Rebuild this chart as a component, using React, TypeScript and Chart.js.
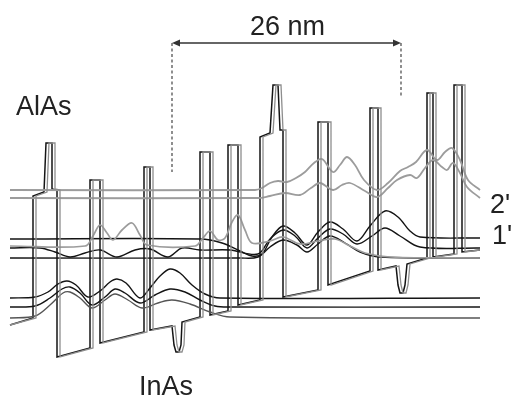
import { useEffect, useRef } from "react";
import { Chart, registerables } from "chart.js";

Chart.register(...registerables);

// Conduction-band edge of the cascade section (position, energy in plot units; energy axis points down)
const bandX = [10, 33, 33, 44, 46, 52, 52, 57, 57, 90, 90, 100, 100, 144, 144, 150, 150, 172, 174, 176, 179, 181, 182, 200, 200, 210, 210, 228, 228, 238, 238, 260, 260, 270, 273, 278, 280, 283, 283, 318, 318, 328, 328, 370, 370, 378, 378, 396, 398, 400, 403, 405, 407, 427, 427, 433, 433, 454, 454, 462, 462, 480];
const bandY = [325, 318, 196, 192, 143, 143, 189, 190, 357, 348, 180, 180, 343, 332, 167, 167, 330, 326, 345, 352, 352, 345, 322, 317, 152, 152, 315, 311, 145, 145, 305, 300, 137, 133, 85, 85, 130, 130, 297, 290, 122, 122, 285, 271, 108, 108, 270, 266, 285, 293, 293, 285, 264, 258, 93, 93, 257, 254, 85, 85, 252, 250];
// The same band edge for the second bias point, shifted slightly along the growth axis
const bandShift = 3;

// Upper states 2' (|psi|^2 drawn on its energy level)
const state2a: [number, number][] = [[10, 190], [255, 190], [262, 188], [270, 183], [278, 181], [287, 182], [296, 178], [305, 172], [314, 163], [322, 159], [333, 172], [340, 165], [347, 157], [355, 165], [364, 180], [377, 190], [388, 183], [400, 171], [408, 167], [416, 162], [427, 150], [437, 160], [445, 152], [452, 148], [460, 160], [468, 180], [480, 190]];
const state2b: [number, number][] = [[10, 198], [258, 198], [270, 196], [285, 193], [300, 195], [311, 188], [320, 183], [333, 190], [342, 185], [350, 183], [365, 191], [377, 197], [388, 188], [397, 180], [410, 175], [417, 178], [425, 168], [433, 160], [442, 167], [447, 170], [453, 163], [460, 173], [467, 187], [480, 198]];

// Lower states 1' and injector states
const state1a: [number, number][] = [[10, 239], [200, 239], [222, 243], [240, 251], [252, 256], [262, 254], [272, 237], [283, 226], [295, 233], [307, 245], [318, 232], [330, 222], [343, 229], [357, 241], [370, 226], [385, 211], [398, 217], [410, 231], [420, 237], [480, 238]];
const state1b: [number, number][] = [[10, 248], [40, 248], [55, 252], [70, 257], [85, 253], [100, 250], [117, 257], [135, 250], [150, 249], [168, 257], [182, 248], [200, 250], [230, 250], [258, 254], [270, 239], [283, 230], [295, 236], [307, 248], [318, 238], [330, 229], [343, 234], [357, 244], [372, 236], [385, 228], [400, 236], [420, 247], [480, 248]];
const injectorA: [number, number][] = [[10, 246], [85, 246], [93, 236], [100, 225], [107, 233], [113, 240], [122, 230], [132, 223], [140, 235], [147, 245], [195, 246], [203, 238], [210, 231], [218, 240], [225, 238], [232, 222], [238, 215], [245, 230], [252, 243], [270, 241], [283, 237], [300, 244], [318, 241], [335, 239], [350, 246], [365, 253], [390, 257], [480, 258]];
const injectorB: [number, number][] = [[10, 258], [240, 258], [258, 257], [270, 247], [283, 240], [297, 245], [307, 252], [318, 244], [330, 236], [345, 243], [360, 252], [380, 257], [480, 258]];

// Ground states 1 of the preceding period
const ground1a: [number, number][] = [[10, 298], [35, 297], [48, 292], [58, 284], [67, 281], [76, 285], [88, 297], [100, 291], [110, 282], [117, 279], [126, 283], [140, 298], [150, 288], [160, 276], [170, 269], [180, 273], [192, 285], [205, 294], [220, 298], [480, 298]];
const ground1b: [number, number][] = [[10, 307], [35, 306], [50, 298], [62, 289], [70, 287], [80, 293], [92, 305], [105, 297], [115, 289], [125, 293], [140, 303], [155, 295], [170, 289], [185, 292], [200, 300], [215, 306], [230, 307], [480, 307]];
const ground1c: [number, number][] = [[10, 318], [35, 316], [50, 305], [63, 293], [70, 292], [80, 298], [92, 308], [105, 300], [115, 294], [128, 300], [142, 308], [158, 303], [172, 300], [190, 304], [210, 312], [230, 317], [480, 318]];

// Period length marker and labels
const periodStart = 172;
const periodEnd = 401;
const periodLevel = 43;
const periodDropStart = 172;
const periodDropEnd = 97;
const periodLabel = "26 nm";
const labels: { text: string; x: number; y: number }[] = [
  { text: "AlAs", x: 16, y: 115 },
  { text: "InAs", x: 139, y: 395 },
  { text: "2'", x: 490, y: 213 },
  { text: "1'", x: 492, y: 244 },
];

const BLACK = "#141414";
const GRAY = "#9c9c9c";
const FONT = '27px "Liberation Sans", Arial, sans-serif';

const toPoints = (pts: [number, number][]) => pts.map(([x, y]) => ({ x, y }));

export default function App() {
  const ref = useRef<HTMLCanvasElement | null>(null);

  useEffect(() => {
    if (!ref.current) return;

    const wave = (pts: [number, number][], color: string, width: number) => ({
      data: toPoints(pts),
      borderColor: color,
      borderWidth: width,
      pointRadius: 0,
      showLine: true,
      tension: 0.35,
      fill: false,
    });

    const band = (shift: number, color: string, width: number) => ({
      data: bandX.map((x, i) => ({ x: x === bandX[0] || i === bandX.length - 1 ? x : x + shift, y: bandY[i] })),
      borderColor: color,
      borderWidth: width,
      pointRadius: 0,
      showLine: true,
      tension: 0,
      fill: false,
    });

    const annotations = {
      id: "annotations",
      afterDatasetsDraw(chart: any) {
        const { ctx, scales } = chart;
        const px = (v: number) => scales.x.getPixelForValue(v);
        const py = (v: number) => scales.y.getPixelForValue(v);
        ctx.save();
        const x0 = px(periodStart);
        const x1 = px(periodEnd);
        const yl = py(periodLevel);
        ctx.strokeStyle = "#333";
        ctx.fillStyle = "#333";
        ctx.lineWidth = 1.3;
        ctx.beginPath();
        ctx.moveTo(x0 + 6, yl);
        ctx.lineTo(x1 - 6, yl);
        ctx.stroke();
        const head = (x: number, dir: number) => {
          ctx.beginPath();
          ctx.moveTo(x, yl);
          ctx.lineTo(x + dir * 8, yl - 3.5);
          ctx.lineTo(x + dir * 8, yl + 3.5);
          ctx.closePath();
          ctx.fill();
        };
        head(x0, 1);
        head(x1, -1);
        ctx.setLineDash([3, 2.5]);
        ctx.lineWidth = 1.1;
        ctx.beginPath();
        ctx.moveTo(x0, yl);
        ctx.lineTo(x0, py(periodDropStart));
        ctx.moveTo(x1, yl);
        ctx.lineTo(x1, py(periodDropEnd));
        ctx.stroke();
        ctx.setLineDash([]);
        ctx.font = FONT;
        ctx.fillStyle = "#222";
        ctx.textBaseline = "alphabetic";
        ctx.fillText(periodLabel, 250, 35);
        labels.forEach((l) => ctx.fillText(l.text, px(l.x), py(l.y)));
        ctx.restore();
      },
    };

    const chart = new Chart(ref.current, {
      type: "scatter",
      data: {
        datasets: [
          band(bandShift, "#8e8e8e", 1.3),
          wave(state2a, GRAY, 1.8),
          wave(state2b, GRAY, 1.8),
          wave(injectorA, GRAY, 1.7),
          wave(ground1c, "#555", 1.4),
          wave(injectorB, BLACK, 1.4),
          wave(state1b, BLACK, 1.4),
          wave(state1a, BLACK, 1.4),
          wave(ground1b, BLACK, 1.4),
          wave(ground1a, BLACK, 1.4),
          band(0, BLACK, 1.5),
        ],
      },
      options: {
        animation: false,
        responsive: false,
        layout: { padding: 0 },
        plugins: { legend: { display: false }, tooltip: { enabled: false } },
        scales: {
          x: { type: "linear", min: 0, max: 511, display: false },
          y: { type: "linear", min: 0, max: 406, reverse: true, display: false },
        },
      },
      plugins: [annotations],
    });

    return () => chart.destroy();
  }, []);

  return (
    <div style={{ position: "fixed", left: 0, top: 0, width: 511, height: 406, background: "#fff" }}>
      <canvas ref={ref} width={511} height={406} />
    </div>
  );
}
